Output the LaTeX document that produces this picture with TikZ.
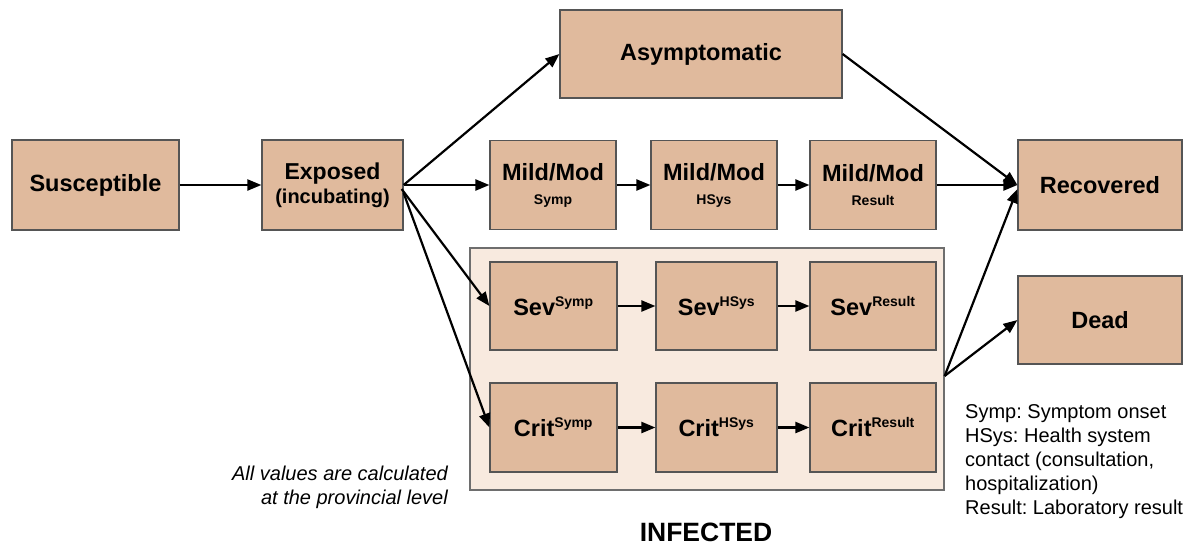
\documentclass[tikz,border=0pt]{standalone}
\usepackage{fontspec}
\setmainfont{Liberation Sans}
\usetikzlibrary{arrows.meta,calc}
\definecolor{boxfill}{RGB}{224,186,157}
\definecolor{boxline}{RGB}{85,85,85}
\definecolor{grpfill}{RGB}{248,234,223}
\definecolor{grpline}{RGB}{110,110,110}
\begin{document}
\frenchspacing
\begin{tikzpicture}[x=1pt,y=-1pt,
  stagebox/.style={draw=boxline,fill=boxfill,line width=1.2pt,align=center,inner sep=0pt,
    font=\bfseries\fontsize{23.5}{25}\selectfont},
  grpbox/.style={draw=grpline,fill=grpfill,line width=1.2pt,inner sep=0pt},
  flow/.style={line width=2.2pt,-{Triangle[length=14pt,width=11pt]}}]
\useasboundingbox (0,0) rectangle (1193,547);
\newcommand{\smalltxt}[1]{{\fontsize{14}{16}\selectfont #1}}
\newcommand{\supx}[1]{\textsuperscript{\fontsize{14}{16}\selectfont #1}}
% group
\node[grpbox,minimum width=474pt,minimum height=242pt] (grp) at (707,369) {};
% boxes
\node[stagebox,minimum width=167pt,minimum height=90pt] (sus) at (95.5,185) {Susceptible};
\node[stagebox,minimum width=141pt,minimum height=90pt] (exp) at (332.5,185) {{\fontsize{23}{24}\selectfont Exposed}\\[-1pt]{\fontsize{20}{22}\selectfont (incubating)}};
\node[stagebox,minimum width=282pt,minimum height=88pt] (asym) at (701,54) {Asymptomatic};
\node[stagebox,minimum width=126pt,minimum height=89pt] (m1) at (553,185) {Mild/Mod\\[-1pt]\smalltxt{Symp}};
\node[stagebox,minimum width=126pt,minimum height=89pt] (m2) at (714,185) {Mild/Mod\\[-1pt]\smalltxt{HSys}};
\node[stagebox,minimum width=126pt,minimum height=89pt] (m3) at (873,185) {Mild/Mod\\[-1pt]\smalltxt{Result}};
\node[stagebox,minimum width=164pt,minimum height=90pt] (rec) at (1100,185) {Recovered};
\node[stagebox,minimum width=164pt,minimum height=88pt] (dead) at (1100,320) {Dead};
\node[stagebox,minimum width=127pt,minimum height=88pt] (s1) at (553.5,306) {Sev\supx{Symp}};
\node[stagebox,minimum width=121pt,minimum height=88pt] (s2) at (716.5,306) {Sev\supx{HSys}};
\node[stagebox,minimum width=126pt,minimum height=88pt] (s3) at (873,306) {Sev\supx{Result}};
\node[stagebox,minimum width=127pt,minimum height=89pt] (c1) at (553.5,427.5) {Crit\supx{Symp}};
\node[stagebox,minimum width=121pt,minimum height=89pt] (c2) at (716.5,427.5) {Crit\supx{HSys}};
\node[stagebox,minimum width=126pt,minimum height=89pt] (c3) at (873,427.5) {Crit\supx{Result}};
% labels
\node[font=\bfseries\fontsize{26.5}{28}\selectfont] (inf) at (706,532) {INFECTED};
\node[font=\itshape\fontsize{20}{23.5}\selectfont,align=right,anchor=north east,inner sep=0pt] (note) at (448,466) {All values are calculated\\at the provincial level};
\node[font=\fontsize{20}{24}\selectfont,align=left,anchor=north west,inner sep=0pt] (leg) at (965,404) {Symp: Symptom onset\\HSys: Health system\\contact (consultation,\\hospitalization)\\Result: Laboratory result};
% connectors
\coordinate (gout) at ($(grp.east)+(0,7)$);
\draw[flow] (sus) -- (exp);
\draw[flow] (exp.east) -- (asym.west);
\draw[flow] (exp.east) -- (m1);
\draw[flow] ($(exp.east)+(-2,4)$) -- (s1.west);
\draw[flow] ($(exp.east)+(0,8)$) -- (c1.west);
\draw[flow] (m1) -- (m2);
\draw[flow] (m2) -- (m3);
\draw[flow] (m3) -- (rec);
\draw[flow] (asym.east) -- (rec.west);
\draw[flow] (s1) -- (s2);
\draw[flow] (s2) -- (s3);
\draw[flow] (c1) -- (c2);
\draw[flow] (c2) -- (c3);
\draw[flow] (gout) -- ($(rec.west)+(0,4)$);
\draw[flow] (gout) -- (dead.west);
\end{tikzpicture}
\end{document}
